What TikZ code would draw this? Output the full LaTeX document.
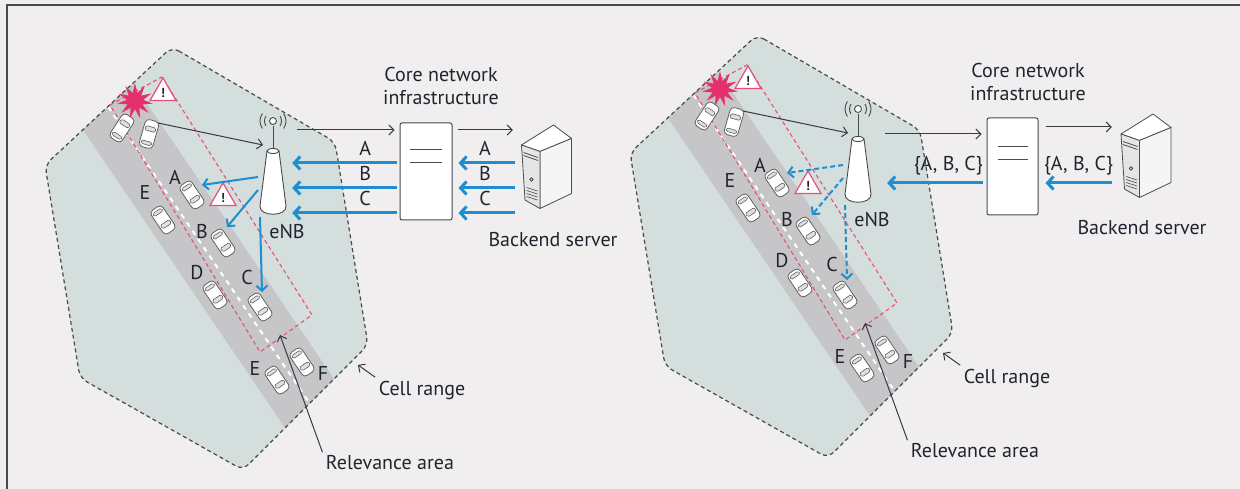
\documentclass[tikz,border=0pt]{standalone}
\usepackage{fontspec}
\setmainfont{PT Sans}
\usetikzlibrary{arrows.meta, shapes.geometric}

\definecolor{paper}{HTML}{F0EEEF}
\definecolor{cellfill}{HTML}{D4DEDD}
\definecolor{roadgray}{HTML}{C6C6C8}
\definecolor{sigblue}{HTML}{1E8ED1}
\definecolor{crash}{HTML}{E5306E}
\definecolor{relpink}{HTML}{E4507A}
\definecolor{ink}{HTML}{23232F}
\definecolor{edge}{HTML}{4A4A4A}

\tikzset{
  vehicle/.pic={
    \draw[draw=gray!75!black, fill=white, line width=0.8pt, rounded corners=4pt] (-14,-7) rectangle (14,7);
    \draw[draw=gray!75!black, fill=gray!25, line width=0.6pt, rounded corners=1.5pt] (3,-5.5) -- (7.5,-5) -- (7.5,5) -- (3,5.5) -- cycle;
    \draw[draw=gray!75!black, fill=gray!25, line width=0.6pt, rounded corners=1.5pt] (-7.5,-5.5) -- (-11,-5) -- (-11,5) -- (-7.5,5.5) -- cycle;
  },
  server/.pic={
    \draw[srvline, fill=white] (-26,-22.5) -- (6,-42.5) -- (24,-29) -- (-7.5,-16) -- cycle;
    \draw[srvline, fill=gray!8] (-7.5,-16) -- (24,-29) -- (24,26) -- (-7.5,41) -- cycle;
    \draw[srvline, fill=gray!20] (-26,-22.5) -- (-7.5,-16) -- (-7.5,41) -- (-22.5,32.5) -- cycle;
    \draw[srvline] (-24,-15) -- (-9.5,-10) (-24,-12) -- (-9.5,-7);
    \draw[srvline] (-16,12) circle [radius=1.8];
    \foreach \g in {20,23,26,29} \draw[srvline, line width=0.6pt] (-21,\g) -- (-10,\g+3.5);
  },
  cellsite/.pic={
    \path[fill=cellfill, rounded corners=8pt] (172,47) -- (335,142) -- (368,345) -- (243,470) -- (80,378) -- (45,165) -- cycle;
    \begin{scope}
      \clip[rounded corners=8pt] (172,47) -- (335,142) -- (368,345) -- (243,470) -- (80,378) -- (45,165) -- cycle;
      \fill[roadgray] (80,5) -- (417,501) -- (361,540) -- (24,43) -- cycle;
      \draw[white, line width=2pt, dash pattern=on 5pt off 5pt] (52,24) -- (389,520);
    \end{scope}
    \draw[edge, line width=1.2pt, dash pattern=on 4pt off 3pt, rounded corners=8pt] (172,47) -- (335,142) -- (368,345) -- (243,470) -- (80,378) -- (45,165) -- cycle;
    \draw[relpink, line width=1.1pt, dash pattern=on 4pt off 3pt] (110,105) -- (162,77) -- (312,315) -- (260,352) -- cycle;
    \pic[rotate=57] at (122,128) {vehicle};
    \pic[rotate=74] at (149,134) {vehicle};
    \foreach \x/\y in {192/195, 163/220, 223/243, 215/295, 260/307, 277/380, 302/362}
      \pic[rotate=-56] at (\x,\y) {vehicle};
    \foreach \t/\x/\y [count=\i] in {A/175/177, E/145/193, B/202/232, D/197/273, C/247/277, E/255/368, F/323/373}
      \node (-car\i) at (\x,\y) {\t};
    \node[star, star points=11, star point ratio=2.2, fill=crash, minimum size=36pt, inner sep=0pt] (-crash) at (135,101) {};
    \node[warn] (-warn1) at (163,93) {!};
    \node[warn] (-warn2) at (223,198) {!};
    \node[minimum width=38pt, minimum height=66pt, inner sep=0pt] (-tower) at (273,181) {};
    \draw[mast, fill=white] (267,151) -- (260,206) .. controls (259,217) and (287,217) .. (286,206) -- (279,151) -- cycle;
    \draw[mast, fill=white] (273,151) ellipse [x radius=6, y radius=2.5];
    \draw[mast] (273,149) -- (273,126);
    \draw[mast, fill=white] (273,121) circle [radius=3.5];
    \foreach \r in {8.5,13} {
      \draw[mast] (273,121) ++(145:\r) arc [start angle=145, end angle=215, radius=\r];
      \draw[mast] (273,121) ++(-35:\r) arc [start angle=-35, end angle=35, radius=\r];
    }
    \node (-enb) at (287,232) {eNB};
    \coordinate (-sa) at (258,177);
    \coordinate (-ta) at (202,185);
    \coordinate (-sb) at (258,190);
    \coordinate (-tb) at (227,227);
    \coordinate (-sc) at (260,217);
    \coordinate (-tc) at (262,292);
    \coordinate (-hit) at (158,123);
    \coordinate (-rx) at (263,145);
    \draw[msg] (-hit) -- (-rx);
    \node (-cell) at (422,390) {Cell range};
    \coordinate (-rim) at (358,365);
    \draw[msg] (-cell.north west) -- (-rim);
    \node (-rel) at (390,463) {Relevance area};
    \coordinate (-spot) at (280,335);
    \draw[msg] (-rel.north west) -- (-spot);
  },
}

\begin{document}
\begin{tikzpicture}[x=1pt, y=-1pt,
  font=\fontsize{20}{23}\selectfont, text=ink,
  msg/.style={draw=ink!90, line width=1pt, -{Straight Barb[length=5pt,width=10pt]}},
  sig/.style={draw=sigblue, line width=3pt, -{Straight Barb[length=6pt,width=13pt]}},
  cast/.style={draw=sigblue, line width=2pt, -{Straight Barb[length=5pt,width=11pt]}},
  lbl/.style={above=5pt, inner sep=1pt},
  warn/.style={regular polygon, regular polygon sides=3, draw=relpink, fill=white, line width=1.2pt,
    minimum size=30pt, inner sep=0pt, font=\bfseries\fontsize{13}{13}\selectfont},
  mast/.style={draw=edge, line width=0.9pt},
  srvline/.style={draw=gray!60!black, line width=0.8pt, line join=round},
  corebox/.style={draw=edge, fill=white, line width=1pt, rounded corners=2pt,
    minimum width=52pt, minimum height=97pt, inner sep=0pt},
  srvbox/.style={minimum width=51pt, minimum height=85pt, inner sep=0pt},
]
\useasboundingbox (0,0) rectangle (1240,489);
\fill[paper] (0,0) rectangle (1240,489);
\draw[edge, line width=1.5pt] (7,489) -- (7,5) -- (1240,5);

\pic (l) at (0,0) {cellsite};
\pic (r) at (585,-12) {cellsite};

\node[corebox] (lcore) at (426,171.5) {};
\draw[edge, line width=1pt] (410,150) -- (442,150) (410,163) -- (442,163);
\node[align=center] (lcoretxt) at (441,86) {Core network\\infrastructure};
\node[srvbox] (lsrv) at (547.5,167.5) {};
\pic at (lsrv.center) {server};
\node (lsrvtxt) at (553,240) {Backend server};
\coordinate (lout) at (297,130);
\draw[msg, shorten >=5pt] (lout) -- (lcore.west |- lout);
\draw[msg, shorten <=5pt, shorten >=9pt] (lcore.east |- lout) -- (lsrv.west |- lout);
\foreach \t/\y in {A/163, B/188, C/213} {
  \draw[sig, shorten <=7pt, shorten >=6pt] (lsrv.west |- 0,\y) -- node[lbl, pos=0.53] (lin\t) {\t} (lcore.east |- 0,\y);
  \draw[sig, shorten <=3pt] (lcore.west |- 0,\y) -- node[lbl, pos=0.32] (lout\t) {\t} (l-tower.east |- 0,\y);
}
\draw[cast] (l-sa) -- (l-ta);
\draw[cast] (l-sb) -- (l-tb);
\draw[cast] (l-sc) -- (l-tc);

\node[corebox, minimum width=51pt] (rcore) at (1012.5,166.5) {};
\draw[edge, line width=1pt] (998,147) -- (1028,147) (998,160) -- (1028,160);
\node[align=center] (rcoretxt) at (1028,82) {Core network\\infrastructure};
\node[srvbox, minimum width=50pt, minimum height=87pt] (rsrv) at (1147,156.5) {};
\pic at (rsrv.center) {server};
\node (rsrvtxt) at (1142,228) {Backend server};
\coordinate (rout) at (885,134);
\draw[msg, shorten >=5pt] (rout) -- (rcore.west |- rout);
\draw[msg, shorten <=7pt, shorten >=10pt] (rcore.east |- 0,127) -- (rsrv.west |- 0,127);
\draw[sig, shorten <=10pt, shorten >=7pt] (rsrv.west |- 0,183) -- node[lbl, pos=0.52] (rin) {\{A, B, C\}} (rcore.east |- 0,183);
\draw[sig, shorten <=4pt, shorten >=10pt] (rcore.west |- 0,183) -- node[lbl, pos=0.35] (rset) {\{A, B, C\}} (r-tower.east |- 0,183);
\draw[cast, dash pattern=on 5pt off 3pt] (r-sa) -- (r-ta);
\draw[cast, dash pattern=on 5pt off 3pt] (r-sb) -- (r-tb);
\draw[cast, dash pattern=on 5pt off 3pt] (r-sc) -- (r-tc);
\end{tikzpicture}
\end{document}
